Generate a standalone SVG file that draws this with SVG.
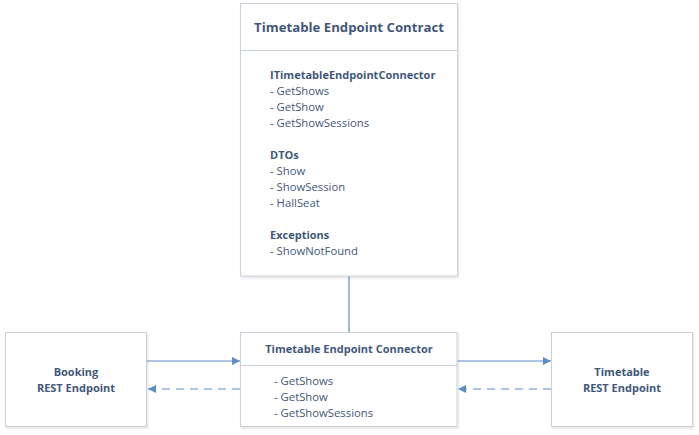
<svg xmlns="http://www.w3.org/2000/svg" width="699" height="435" viewBox="0 0 699 435">
<defs>
<filter id="sh" x="-10%" y="-10%" width="120%" height="120%"><feDropShadow dx="1" dy="1.5" stdDeviation="1" flood-color="#000" flood-opacity="0.12"/></filter>
<marker id="ah" viewBox="0 0 10 10" refX="10" refY="5" markerWidth="8" markerHeight="8" markerUnits="userSpaceOnUse" orient="auto"><path d="M0,0 L10,5 L0,10 z" fill="#5B8CC6"/></marker>
</defs>
<style>
.box{fill:#fff;stroke:#C9D1DA;stroke-width:1;filter:url(#sh)}
.div{stroke:#C9D1DA;stroke-width:1}
.t{font-family:"Open Sans","Liberation Sans",sans-serif;fill:#42587A}
.title{font-size:13.2px;font-weight:bold}
.h{font-size:11px;font-weight:bold}
.i{font-size:11.3px}
.c{stroke:#5B8CC6;stroke-width:1.2;fill:none}
.d{stroke-dasharray:8,6}
</style>
<rect width="699" height="435" fill="#fff"/>
<g id="connectors">
<line class="c" x1="349" y1="276" x2="349" y2="333"/>
<line class="c" x1="147" y1="361" x2="240" y2="361" marker-end="url(#ah)"/>
<line class="c" x1="457" y1="361" x2="551" y2="361" marker-end="url(#ah)"/>
<line class="c d" x1="240" y1="389" x2="148" y2="389" marker-end="url(#ah)"/>
<line class="c d" x1="551" y1="389" x2="458" y2="389" marker-end="url(#ah)"/>
</g>
<g id="contract">
<rect class="box" x="240.5" y="3.5" width="217" height="272.5"/>
<line class="div" x1="240.5" y1="50.5" x2="457.5" y2="50.5"/>
<text class="t title" x="349" y="32" text-anchor="middle">Timetable Endpoint Contract</text>
<text class="t h" x="270" y="79">ITimetableEndpointConnector</text>
<text class="t i" x="270" y="95">- GetShows</text>
<text class="t i" x="270" y="111">- GetShow</text>
<text class="t i" x="270" y="127">- GetShowSessions</text>
<text class="t h" x="270" y="159">DTOs</text>
<text class="t i" x="270" y="175">- Show</text>
<text class="t i" x="270" y="191">- ShowSession</text>
<text class="t i" x="270" y="207">- HallSeat</text>
<text class="t h" x="270" y="239">Exceptions</text>
<text class="t i" x="270" y="255">- ShowNotFound</text>
</g>
<g id="connector">
<rect class="box" x="240.5" y="332.5" width="216.5" height="94"/>
<line class="div" x1="240.5" y1="365.5" x2="457" y2="365.5"/>
<text class="t h" x="349" y="353" text-anchor="middle">Timetable Endpoint Connector</text>
<text class="t i" x="274" y="385">- GetShows</text>
<text class="t i" x="274" y="401">- GetShow</text>
<text class="t i" x="274" y="417">- GetShowSessions</text>
</g>
<g id="booking">
<rect class="box" x="5.5" y="332.5" width="141" height="94"/>
<text class="t h" x="76" y="376" text-anchor="middle">Booking</text>
<text class="t h" x="76" y="392" text-anchor="middle">REST Endpoint</text>
</g>
<g id="timetable-rest">
<rect class="box" x="551.5" y="332.5" width="141" height="94"/>
<text class="t h" x="622" y="376" text-anchor="middle">Timetable</text>
<text class="t h" x="622" y="392" text-anchor="middle">REST Endpoint</text>
</g>
</svg>
